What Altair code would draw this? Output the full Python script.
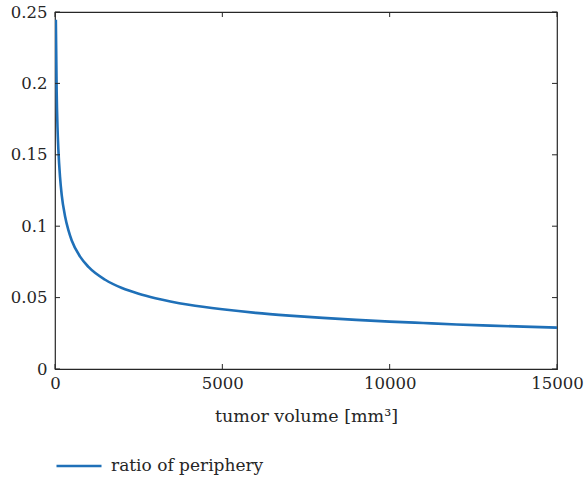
import altair as alt
import pandas as pd

volume = [25, 50, 75, 100, 150, 200, 300, 400, 500, 750, 1000, 1500, 2000, 2500, 3000, 4000,
          5000, 6000, 7000, 8000, 9000, 10000, 11000, 12000, 13000, 14000, 15000]
ratio = [0.2445, 0.194, 0.169, 0.154, 0.1345, 0.122, 0.107, 0.0972, 0.090, 0.0787, 0.0715,
         0.0625, 0.0567, 0.0527, 0.0496, 0.0450, 0.0418, 0.0393, 0.0374, 0.0358, 0.0344,
         0.0332, 0.0322, 0.0312, 0.0304, 0.0297, 0.0290]
series = ["ratio of periphery"] * len(volume)

x_ticks = [0, 5000, 10000, 15000]
y_ticks = [0, 0.05, 0.1, 0.15, 0.2, 0.25]

FONT = "DejaVu Serif"
W, H = 502, 357

df = pd.DataFrame({"volume": volume, "ratio": ratio, "series": series})
xt = pd.DataFrame({"v": x_ticks})
yt = pd.DataFrame({"v": y_ticks})

xscale = alt.Scale(domain=[0, 15000], nice=False)
yscale = alt.Scale(domain=[0, 0.25], nice=False)

line = alt.Chart(df).mark_line(strokeWidth=2.6, clip=True, interpolate="monotone").encode(
    x=alt.X("volume:Q", scale=xscale,
            axis=alt.Axis(values=x_ticks, format="d", title="tumor volume [mm³]",
                          grid=False, domain=False, ticks=False, labelPadding=6,
                          labelFlush=False,
                          labelFontSize=16.5, titleFontSize=17.5, titleFontWeight="normal",
                          titlePadding=16, labelColor="#262626", titleColor="#262626",
                          labelFont=FONT, titleFont=FONT)),
    y=alt.Y("ratio:Q", scale=yscale,
            axis=alt.Axis(values=y_ticks, format=".2~f", title=None, grid=False,
                          domain=False, ticks=False, labelPadding=8, labelFontSize=16.5,
                          labelFlush=False,
                          labelColor="#262626", labelFont=FONT)),
    color=alt.Color("series:N", scale=alt.Scale(range=["#1f70b8"]),
                    legend=alt.Legend(title=None, orient="none", legendX=0, legendY=430,
                                      symbolType="stroke", symbolSize=2025,
                                      symbolStrokeWidth=2.6, labelFontSize=17,
                                      labelFont=FONT, labelColor="#262626",
                                      labelOffset=8)),
)

tick_color = "#262626"
ly = alt.Chart(yt).mark_rule(color=tick_color, strokeWidth=1).encode(
    y=alt.Y("v:Q", scale=yscale), x=alt.value(0), x2=alt.value(5))
ry = alt.Chart(yt).mark_rule(color=tick_color, strokeWidth=1).encode(
    y=alt.Y("v:Q", scale=yscale), x=alt.value(W - 5), x2=alt.value(W))
bx = alt.Chart(xt).mark_rule(color=tick_color, strokeWidth=1).encode(
    x=alt.X("v:Q", scale=xscale), y=alt.value(H - 5), y2=alt.value(H))
tx = alt.Chart(xt).mark_rule(color=tick_color, strokeWidth=1).encode(
    x=alt.X("v:Q", scale=xscale), y=alt.value(0), y2=alt.value(5))

chart = alt.layer(line, ly, ry, bx, tx).properties(
    width=W, height=H,
    background="white",
    padding={"left": 55, "top": 12, "right": 28, "bottom": 112},
    autosize=alt.AutoSizeParams(type="none"),
).configure_view(stroke="#262626", strokeWidth=1.2).configure_axis(
    labelFont=FONT, titleFont=FONT
).configure_legend(labelFont=FONT).configure_text(font=FONT)

chart.save("out.html", embed_options={"renderer": "svg", "actions": False})
